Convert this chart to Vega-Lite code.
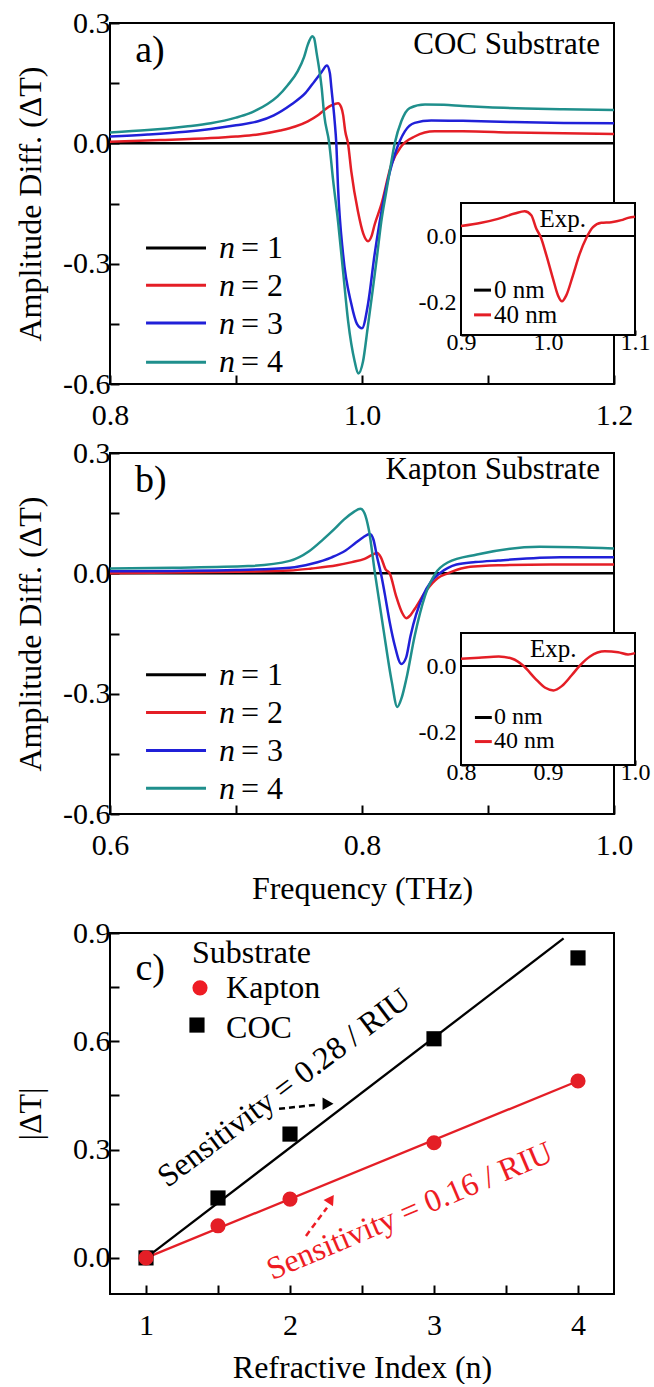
{
  "$schema": "https://vega.github.io/schema/vega-lite/v6.json",
  "padding": {"left": 13, "top": 7, "right": 0, "bottom": 0},
  "background": "white",
  "config": {
    "font": "Liberation Serif",
    "view": {"stroke": "black", "strokeWidth": 2},
    "axis": {
      "domain": false, "grid": false, "ticks": true,
      "tickColor": "black", "tickSize": -9, "tickWidth": 2,
      "labelFont": "Liberation Serif", "labelFontSize": 30, "labelColor": "black",
      "labelOverlap": false, "labelFlush": false,
      "titleFont": "Liberation Serif", "titleFontSize": 32, "titleFontWeight": "normal", "titleColor": "black",
      "zindex": 1
    },
    "text": {"font": "Liberation Serif", "color": "black"}
  },
  "datasets": {
    "ca": [
      {"f":0.8,"v":0,"n":"1"},{"f":1.2,"v":0,"n":"1"},
      {"f":0.80,"v":0.004,"n":"2"},{"f":0.84,"v":0.008,"n":"2"},{"f":0.88,"v":0.013,"n":"2"},{"f":0.90,"v":0.017,"n":"2"},{"f":0.9175,"v":0.022,"n":"2"},{"f":0.935,"v":0.032,"n":"2"},{"f":0.947,"v":0.042,"n":"2"},{"f":0.957,"v":0.055,"n":"2"},{"f":0.965,"v":0.07,"n":"2"},{"f":0.9704,"v":0.084,"n":"2"},{"f":0.976,"v":0.095,"n":"2"},{"f":0.981,"v":0.1,"n":"2"},{"f":0.9835,"v":0.09,"n":"2"},{"f":0.985,"v":0.071,"n":"2"},{"f":0.9867,"v":0.03,"n":"2"},{"f":0.9889,"v":0.0,"n":"2"},{"f":0.9915,"v":-0.07,"n":"2"},{"f":0.9968,"v":-0.17,"n":"2"},{"f":1.001,"v":-0.225,"n":"2"},{"f":1.0048,"v":-0.244,"n":"2"},{"f":1.0075,"v":-0.232,"n":"2"},{"f":1.010,"v":-0.203,"n":"2"},{"f":1.0153,"v":-0.153,"n":"2"},{"f":1.0233,"v":-0.053,"n":"2"},{"f":1.0312,"v":-0.0075,"n":"2"},{"f":1.0418,"v":0.017,"n":"2"},{"f":1.0577,"v":0.03,"n":"2"},{"f":1.08,"v":0.03,"n":"2"},{"f":1.12,"v":0.027,"n":"2"},{"f":1.16,"v":0.025,"n":"2"},{"f":1.2,"v":0.023,"n":"2"},
      {"f":0.80,"v":0.017,"n":"3"},{"f":0.83,"v":0.022,"n":"3"},{"f":0.86,"v":0.029,"n":"3"},{"f":0.88,"v":0.036,"n":"3"},{"f":0.90,"v":0.045,"n":"3"},{"f":0.9175,"v":0.055,"n":"3"},{"f":0.93,"v":0.07,"n":"3"},{"f":0.9439,"v":0.097,"n":"3"},{"f":0.955,"v":0.125,"n":"3"},{"f":0.9624,"v":0.155,"n":"3"},{"f":0.968,"v":0.178,"n":"3"},{"f":0.9722,"v":0.194,"n":"3"},{"f":0.9745,"v":0.175,"n":"3"},{"f":0.9757,"v":0.138,"n":"3"},{"f":0.9783,"v":0.055,"n":"3"},{"f":0.9796,"v":0.0,"n":"3"},{"f":0.981,"v":-0.111,"n":"3"},{"f":0.985,"v":-0.277,"n":"3"},{"f":0.9915,"v":-0.40,"n":"3"},{"f":0.996,"v":-0.45,"n":"3"},{"f":1.0,"v":-0.461,"n":"3"},{"f":1.0048,"v":-0.40,"n":"3"},{"f":1.010,"v":-0.277,"n":"3"},{"f":1.018,"v":-0.128,"n":"3"},{"f":1.026,"v":-0.028,"n":"3"},{"f":1.034,"v":0.030,"n":"3"},{"f":1.0418,"v":0.051,"n":"3"},{"f":1.055,"v":0.057,"n":"3"},{"f":1.08,"v":0.056,"n":"3"},{"f":1.12,"v":0.053,"n":"3"},{"f":1.16,"v":0.051,"n":"3"},{"f":1.2,"v":0.050,"n":"3"},
      {"f":0.80,"v":0.027,"n":"4"},{"f":0.83,"v":0.033,"n":"4"},{"f":0.86,"v":0.042,"n":"4"},{"f":0.88,"v":0.050,"n":"4"},{"f":0.90,"v":0.064,"n":"4"},{"f":0.91,"v":0.074,"n":"4"},{"f":0.917,"v":0.084,"n":"4"},{"f":0.925,"v":0.098,"n":"4"},{"f":0.933,"v":0.117,"n":"4"},{"f":0.941,"v":0.145,"n":"4"},{"f":0.949,"v":0.18,"n":"4"},{"f":0.954,"v":0.215,"n":"4"},{"f":0.957,"v":0.246,"n":"4"},{"f":0.9606,"v":0.267,"n":"4"},{"f":0.962,"v":0.262,"n":"4"},{"f":0.964,"v":0.225,"n":"4"},{"f":0.968,"v":0.138,"n":"4"},{"f":0.970,"v":0.071,"n":"4"},{"f":0.974,"v":0.0,"n":"4"},{"f":0.977,"v":-0.09,"n":"4"},{"f":0.981,"v":-0.195,"n":"4"},{"f":0.985,"v":-0.32,"n":"4"},{"f":0.989,"v":-0.444,"n":"4"},{"f":0.9942,"v":-0.544,"n":"4"},{"f":0.997,"v":-0.574,"n":"4"},{"f":1.0008,"v":-0.544,"n":"4"},{"f":1.0045,"v":-0.46,"n":"4"},{"f":1.0087,"v":-0.361,"n":"4"},{"f":1.012,"v":-0.28,"n":"4"},{"f":1.0153,"v":-0.195,"n":"4"},{"f":1.019,"v":-0.125,"n":"4"},{"f":1.022,"v":-0.07,"n":"4"},{"f":1.026,"v":0.0,"n":"4"},{"f":1.0312,"v":0.055,"n":"4"},{"f":1.0378,"v":0.088,"n":"4"},{"f":1.05,"v":0.097,"n":"4"},{"f":1.065,"v":0.096,"n":"4"},{"f":1.08,"v":0.093,"n":"4"},{"f":1.10,"v":0.090,"n":"4"},{"f":1.13,"v":0.087,"n":"4"},{"f":1.16,"v":0.085,"n":"4"},{"f":1.2,"v":0.083,"n":"4"}
    ],
    "cb": [
      {"f":0.6,"v":0,"n":"1"},{"f":1.0,"v":0,"n":"1"},
      {"f":0.6,"v":0.0,"n":"2"},{"f":0.65,"v":0.002,"n":"2"},{"f":0.70,"v":0.004,"n":"2"},{"f":0.7426,"v":0.007,"n":"2"},{"f":0.76,"v":0.012,"n":"2"},{"f":0.78,"v":0.02,"n":"2"},{"f":0.792,"v":0.028,"n":"2"},{"f":0.802,"v":0.036,"n":"2"},{"f":0.808,"v":0.046,"n":"2"},{"f":0.812,"v":0.051,"n":"2"},{"f":0.815,"v":0.04,"n":"2"},{"f":0.8187,"v":0.01,"n":"2"},{"f":0.822,"v":0.0,"n":"2"},{"f":0.827,"v":-0.056,"n":"2"},{"f":0.8318,"v":-0.098,"n":"2"},{"f":0.8352,"v":-0.112,"n":"2"},{"f":0.8385,"v":-0.104,"n":"2"},{"f":0.8418,"v":-0.089,"n":"2"},{"f":0.8517,"v":-0.04,"n":"2"},{"f":0.86,"v":-0.012,"n":"2"},{"f":0.868,"v":0.0,"n":"2"},{"f":0.8815,"v":0.014,"n":"2"},{"f":0.895,"v":0.018,"n":"2"},{"f":0.908,"v":0.02,"n":"2"},{"f":0.95,"v":0.022,"n":"2"},{"f":1.0,"v":0.022,"n":"2"},
      {"f":0.6,"v":0.005,"n":"3"},{"f":0.65,"v":0.006,"n":"3"},{"f":0.70,"v":0.008,"n":"3"},{"f":0.7426,"v":0.014,"n":"3"},{"f":0.76,"v":0.024,"n":"3"},{"f":0.776,"v":0.04,"n":"3"},{"f":0.787,"v":0.057,"n":"3"},{"f":0.795,"v":0.076,"n":"3"},{"f":0.801,"v":0.09,"n":"3"},{"f":0.8063,"v":0.098,"n":"3"},{"f":0.809,"v":0.085,"n":"3"},{"f":0.812,"v":0.04,"n":"3"},{"f":0.815,"v":0.0,"n":"3"},{"f":0.818,"v":-0.05,"n":"3"},{"f":0.822,"v":-0.122,"n":"3"},{"f":0.826,"v":-0.18,"n":"3"},{"f":0.8312,"v":-0.226,"n":"3"},{"f":0.835,"v":-0.21,"n":"3"},{"f":0.8385,"v":-0.156,"n":"3"},{"f":0.8484,"v":-0.056,"n":"3"},{"f":0.855,"v":-0.02,"n":"3"},{"f":0.8617,"v":0.0,"n":"3"},{"f":0.875,"v":0.022,"n":"3"},{"f":0.89,"v":0.028,"n":"3"},{"f":0.908,"v":0.032,"n":"3"},{"f":0.9575,"v":0.04,"n":"3"},{"f":1.0,"v":0.04,"n":"3"},
      {"f":0.6,"v":0.012,"n":"4"},{"f":0.65,"v":0.014,"n":"4"},{"f":0.7095,"v":0.018,"n":"4"},{"f":0.7426,"v":0.031,"n":"4"},{"f":0.758,"v":0.055,"n":"4"},{"f":0.769,"v":0.084,"n":"4"},{"f":0.778,"v":0.11,"n":"4"},{"f":0.7856,"v":0.134,"n":"4"},{"f":0.793,"v":0.152,"n":"4"},{"f":0.7988,"v":0.161,"n":"4"},{"f":0.802,"v":0.15,"n":"4"},{"f":0.8054,"v":0.109,"n":"4"},{"f":0.8103,"v":0.0,"n":"4"},{"f":0.817,"v":-0.139,"n":"4"},{"f":0.8236,"v":-0.27,"n":"4"},{"f":0.828,"v":-0.333,"n":"4"},{"f":0.8315,"v":-0.31,"n":"4"},{"f":0.8352,"v":-0.263,"n":"4"},{"f":0.8418,"v":-0.156,"n":"4"},{"f":0.850,"v":-0.056,"n":"4"},{"f":0.8583,"v":0.0,"n":"4"},{"f":0.868,"v":0.027,"n":"4"},{"f":0.8913,"v":0.047,"n":"4"},{"f":0.941,"v":0.066,"n":"4"},{"f":0.97,"v":0.065,"n":"4"},{"f":1.0,"v":0.062,"n":"4"}
    ],
    "ia": [
      {"f":0.9,"v":0.03},{"f":0.9233,"v":0.040},{"f":0.9425,"v":0.052},{"f":0.9617,"v":0.068},{"f":0.9732,"v":0.075},{"f":0.9808,"v":0.063},{"f":0.9866,"v":0.022},{"f":0.9916,"v":-0.003},{"f":0.9981,"v":-0.058},{"f":1.0057,"v":-0.129},{"f":1.0115,"v":-0.18},{"f":1.0161,"v":-0.198},{"f":1.021,"v":-0.18},{"f":1.0287,"v":-0.119},{"f":1.0364,"v":-0.054},{"f":1.044,"v":-0.006},{"f":1.0517,"v":0.027},{"f":1.0613,"v":0.040},{"f":1.0728,"v":0.042},{"f":1.0843,"v":0.048},{"f":1.092,"v":0.055},{"f":1.1,"v":0.058}
    ],
    "ib": [
      {"f":0.8,"v":0.022},{"f":0.8206,"v":0.025},{"f":0.8434,"v":0.029},{"f":0.859,"v":0.022},{"f":0.872,"v":0.0},{"f":0.8853,"v":-0.038},{"f":0.8968,"v":-0.066},{"f":0.9063,"v":-0.074},{"f":0.9158,"v":-0.061},{"f":0.9272,"v":-0.028},{"f":0.9368,"v":0.002},{"f":0.9482,"v":0.029},{"f":0.9653,"v":0.045},{"f":0.9806,"v":0.042},{"f":0.992,"v":0.035},{"f":1.0,"v":0.039}
    ],
    "pc": [
      {"ri":1,"dt":0,"sub":"COC"},{"ri":1.5,"dt":0.166,"sub":"COC"},{"ri":2,"dt":0.343,"sub":"COC"},{"ri":3,"dt":0.607,"sub":"COC"},{"ri":4,"dt":0.831,"sub":"COC"},
      {"ri":1,"dt":0,"sub":"Kapton"},{"ri":1.5,"dt":0.089,"sub":"Kapton"},{"ri":2,"dt":0.163,"sub":"Kapton"},{"ri":3,"dt":0.319,"sub":"Kapton"},{"ri":4,"dt":0.49,"sub":"Kapton"}
    ],
    "fit": [
      {"ri":1,"dt":0,"sub":"COC"},{"ri":3.9,"dt":0.885,"sub":"COC"},
      {"ri":1,"dt":0,"sub":"Kapton"},{"ri":4,"dt":0.49,"sub":"Kapton"}
    ]
  },
  "vconcat": [
    {
      "spacing": 6,
      "vconcat": [
        {
          "width": 504, "height": 361,
          "data": {"values": [{}]},
          "resolve": {"scale": {"x": "independent", "y": "independent"}},
          "layer": [
            {
              "layer": [
                {
                  "data": {"name": "ca"},
                  "mark": {"type": "line", "strokeWidth": 2.5, "interpolate": "monotone"},
                  "encoding": {
                    "x": {"field": "f", "type": "quantitative", "scale": {"domain": [0.8, 1.2], "nice": false, "zero": false},
                      "axis": {"title": null, "values": [0.8, 0.9, 1.0, 1.1, 1.2], "labelPadding": 25, "labelExpr": "round(datum.value*10)%2==0 ? format(datum.value,'.1f') : ''"}},
                    "y": {"field": "v", "type": "quantitative", "scale": {"domain": [-0.6, 0.3], "nice": false, "zero": false},
                      "axis": {"title": "Amplitude Diff. (ΔT)", "values": [-0.6, -0.45, -0.3, -0.15, 0, 0.15, 0.3], "labelPadding": 9, "titlePadding": 15, "labelExpr": "round(datum.value*100)%30==0 ? (datum.value<0 ? '-' : '') + format(abs(datum.value),'.1f') : ''"}},
                    "color": {"field": "n", "type": "nominal", "scale": {"domain": ["1", "2", "3", "4"], "range": ["#000000", "#e41e26", "#2020d8", "#1f8f8c"]}, "legend": null}
                  }
                },
                {"mark": {"type": "rule", "color": "#000000", "strokeWidth": 3}, "encoding": {"x": {"datum": 0.8286}, "x2": {"datum": 0.8762}, "y": {"datum": -0.261}}},
                {"mark": {"type": "rule", "color": "#e41e26", "strokeWidth": 3}, "encoding": {"x": {"datum": 0.8286}, "x2": {"datum": 0.8762}, "y": {"datum": -0.354}}},
                {"mark": {"type": "rule", "color": "#2020d8", "strokeWidth": 3}, "encoding": {"x": {"datum": 0.8286}, "x2": {"datum": 0.8762}, "y": {"datum": -0.448}}},
                {"mark": {"type": "rule", "color": "#1f8f8c", "strokeWidth": 3}, "encoding": {"x": {"datum": 0.8286}, "x2": {"datum": 0.8762}, "y": {"datum": -0.546}}},
                {"mark": {"type": "text", "text": ["n", "n", "n", "n"], "fontStyle": "italic", "fontSize": 32, "lineHeight": 38, "align": "left", "baseline": "middle"}, "encoding": {"x": {"datum": 0.8865}, "y": {"datum": -0.261}}},
                {"mark": {"type": "text", "text": ["= 1", "= 2", "= 3", "= 4"], "fontSize": 32, "lineHeight": 38, "align": "left", "baseline": "middle"}, "encoding": {"x": {"datum": 0.904}, "y": {"datum": -0.261}}},
                {"mark": {"type": "text", "text": "a)", "fontSize": 38, "align": "left", "baseline": "middle"}, "encoding": {"x": {"datum": 0.82}, "y": {"datum": 0.229}}},
                {"mark": {"type": "text", "text": "COC Substrate", "fontSize": 31, "align": "right", "baseline": "middle"}, "encoding": {"x": {"datum": 1.189}, "y": {"datum": 0.244}}}
              ]
            },
            {
              "layer": [
                {
                  "mark": {"type": "rect", "fill": "white", "stroke": "black", "strokeWidth": 2},
                  "encoding": {
                    "x": {"datum": 0.9, "type": "quantitative", "scale": {"domain": [0.9, 1.1], "range": [351, 525], "nice": false, "zero": false},
                      "axis": {"orient": "bottom", "offset": -49, "title": null, "values": [0.9, 0.95, 1.0, 1.05, 1.1], "labelFontSize": 24, "labelPadding": 0, "tickSize": -5, "labelExpr": "round(datum.value*100)%10==0 ? format(datum.value,'.1f') : ''"}},
                    "x2": {"datum": 1.1},
                    "y": {"datum": -0.3, "type": "quantitative", "scale": {"domain": [-0.3, 0.1], "range": [312, 180], "nice": false, "zero": false},
                      "axis": {"orient": "left", "offset": -351, "title": null, "values": [-0.3, -0.2, -0.1, 0, 0.1], "labelFontSize": 24, "labelPadding": 10, "tickSize": -5, "labelExpr": "round(datum.value*10)%2==0 ? (datum.value<0 ? '-' : '') + format(abs(datum.value),'.1f') : ''"}},
                    "y2": {"datum": 0.1}
                  }
                },
                {"mark": {"type": "rule", "color": "black", "strokeWidth": 2}, "encoding": {"x": {"datum": 0.9}, "x2": {"datum": 1.1}, "y": {"datum": 0}}},
                {"data": {"name": "ia"}, "mark": {"type": "line", "color": "#e41e26", "strokeWidth": 2.5, "interpolate": "monotone"}, "encoding": {"x": {"field": "f", "type": "quantitative"}, "y": {"field": "v", "type": "quantitative"}}},
                {"mark": {"type": "rule", "color": "black", "strokeWidth": 3}, "encoding": {"x": {"datum": 0.915}, "x2": {"datum": 0.9345}, "y": {"datum": -0.164}}},
                {"mark": {"type": "rule", "color": "#e41e26", "strokeWidth": 3}, "encoding": {"x": {"datum": 0.915}, "x2": {"datum": 0.9345}, "y": {"datum": -0.239}}},
                {"mark": {"type": "text", "text": ["0 nm", "40 nm"], "fontSize": 25, "lineHeight": 25, "align": "left", "baseline": "middle"}, "encoding": {"x": {"datum": 0.938}, "y": {"datum": -0.164}}},
                {"mark": {"type": "text", "text": "Exp.", "fontSize": 25, "align": "center", "baseline": "middle"}, "encoding": {"x": {"datum": 1.017}, "y": {"datum": 0.052}}}
              ]
            }
          ]
        },
        {
          "width": 504, "height": 361,
          "data": {"values": [{}]},
          "resolve": {"scale": {"x": "independent", "y": "independent"}},
          "layer": [
            {
              "layer": [
                {
                  "data": {"name": "cb"},
                  "mark": {"type": "line", "strokeWidth": 2.5, "interpolate": "monotone"},
                  "encoding": {
                    "x": {"field": "f", "type": "quantitative", "scale": {"domain": [0.6, 1.0], "nice": false, "zero": false},
                      "axis": {"title": "Frequency (THz)", "titlePadding": 13, "values": [0.6, 0.7, 0.8, 0.9, 1.0], "labelPadding": 25, "labelExpr": "round(datum.value*10)%2==0 ? format(datum.value,'.1f') : ''"}},
                    "y": {"field": "v", "type": "quantitative", "scale": {"domain": [-0.6, 0.3], "nice": false, "zero": false},
                      "axis": {"title": "Amplitude Diff. (ΔT)", "values": [-0.6, -0.45, -0.3, -0.15, 0, 0.15, 0.3], "labelPadding": 9, "titlePadding": 15, "labelExpr": "round(datum.value*100)%30==0 ? (datum.value<0 ? '-' : '') + format(abs(datum.value),'.1f') : ''"}},
                    "color": {"field": "n", "type": "nominal", "scale": {"domain": ["1", "2", "3", "4"], "range": ["#000000", "#e41e26", "#2020d8", "#1f8f8c"]}, "legend": null}
                  }
                },
                {"mark": {"type": "rule", "color": "#000000", "strokeWidth": 3}, "encoding": {"x": {"datum": 0.6286}, "x2": {"datum": 0.6762}, "y": {"datum": -0.253}}},
                {"mark": {"type": "rule", "color": "#e41e26", "strokeWidth": 3}, "encoding": {"x": {"datum": 0.6286}, "x2": {"datum": 0.6762}, "y": {"datum": -0.347}}},
                {"mark": {"type": "rule", "color": "#2020d8", "strokeWidth": 3}, "encoding": {"x": {"datum": 0.6286}, "x2": {"datum": 0.6762}, "y": {"datum": -0.442}}},
                {"mark": {"type": "rule", "color": "#1f8f8c", "strokeWidth": 3}, "encoding": {"x": {"datum": 0.6286}, "x2": {"datum": 0.6762}, "y": {"datum": -0.536}}},
                {"mark": {"type": "text", "text": ["n", "n", "n", "n"], "fontStyle": "italic", "fontSize": 32, "lineHeight": 38, "align": "left", "baseline": "middle"}, "encoding": {"x": {"datum": 0.6865}, "y": {"datum": -0.253}}},
                {"mark": {"type": "text", "text": ["= 1", "= 2", "= 3", "= 4"], "fontSize": 32, "lineHeight": 38, "align": "left", "baseline": "middle"}, "encoding": {"x": {"datum": 0.704}, "y": {"datum": -0.253}}},
                {"mark": {"type": "text", "text": "b)", "fontSize": 38, "align": "left", "baseline": "middle"}, "encoding": {"x": {"datum": 0.6198}, "y": {"datum": 0.231}}},
                {"mark": {"type": "text", "text": "Kapton Substrate", "fontSize": 31, "align": "right", "baseline": "middle"}, "encoding": {"x": {"datum": 0.9889}, "y": {"datum": 0.258}}}
              ]
            },
            {
              "layer": [
                {
                  "mark": {"type": "rect", "fill": "white", "stroke": "black", "strokeWidth": 2},
                  "encoding": {
                    "x": {"datum": 0.8, "type": "quantitative", "scale": {"domain": [0.8, 1.0], "range": [351, 525], "nice": false, "zero": false},
                      "axis": {"orient": "bottom", "offset": -49, "title": null, "values": [0.8, 0.85, 0.9, 0.95, 1.0], "labelFontSize": 24, "labelPadding": 0, "tickSize": -5, "labelExpr": "round(datum.value*100)%10==0 ? format(datum.value,'.1f') : ''"}},
                    "x2": {"datum": 1.0},
                    "y": {"datum": -0.3, "type": "quantitative", "scale": {"domain": [-0.3, 0.1], "range": [312, 180], "nice": false, "zero": false},
                      "axis": {"orient": "left", "offset": -351, "title": null, "values": [-0.3, -0.2, -0.1, 0, 0.1], "labelFontSize": 24, "labelPadding": 10, "tickSize": -5, "labelExpr": "round(datum.value*10)%2==0 ? (datum.value<0 ? '-' : '') + format(abs(datum.value),'.1f') : ''"}},
                    "y2": {"datum": 0.1}
                  }
                },
                {"mark": {"type": "rule", "color": "black", "strokeWidth": 2}, "encoding": {"x": {"datum": 0.8}, "x2": {"datum": 1.0}, "y": {"datum": 0}}},
                {"data": {"name": "ib"}, "mark": {"type": "line", "color": "#e41e26", "strokeWidth": 2.5, "interpolate": "monotone"}, "encoding": {"x": {"field": "f", "type": "quantitative"}, "y": {"field": "v", "type": "quantitative"}}},
                {"mark": {"type": "rule", "color": "black", "strokeWidth": 3}, "encoding": {"x": {"datum": 0.816}, "x2": {"datum": 0.8354}, "y": {"datum": -0.156}}},
                {"mark": {"type": "rule", "color": "#e41e26", "strokeWidth": 3}, "encoding": {"x": {"datum": 0.816}, "x2": {"datum": 0.8354}, "y": {"datum": -0.229}}},
                {"mark": {"type": "text", "text": ["0 nm", "40 nm"], "fontSize": 24, "lineHeight": 24, "align": "left", "baseline": "middle"}, "encoding": {"x": {"datum": 0.838}, "y": {"datum": -0.156}}},
                {"mark": {"type": "text", "text": "Exp.", "fontSize": 25, "align": "center", "baseline": "middle"}, "encoding": {"x": {"datum": 0.906}, "y": {"datum": 0.052}}}
              ]
            }
          ]
        }
      ]
    },
    {
      "width": 504, "height": 361,
      "data": {"values": [{}]},
      "layer": [
        {
          "data": {"name": "fit"},
          "mark": {"type": "line", "strokeWidth": 2.3},
          "encoding": {
            "x": {"field": "ri", "type": "quantitative", "scale": {"domain": [0.75, 4.25], "nice": false, "zero": false},
              "axis": {"title": "Refractive Index (n)", "titlePadding": 12, "values": [1, 1.5, 2, 2.5, 3, 3.5, 4], "labelPadding": 25, "labelExpr": "datum.value%1==0 ? format(datum.value,'d') : ''"}},
            "y": {"field": "dt", "type": "quantitative", "scale": {"domain": [-0.1, 0.9], "nice": false, "zero": false},
              "axis": {"title": "|ΔT|", "titlePadding": 25, "values": [0, 0.15, 0.3, 0.45, 0.6, 0.75, 0.9], "labelPadding": 9, "labelExpr": "round(datum.value*100)%30==0 ? format(datum.value,'.1f') : ''"}},
            "color": {"field": "sub", "type": "nominal", "scale": {"domain": ["COC", "Kapton"], "range": ["#000000", "#ee1c24"]}, "legend": null}
          }
        },
        {
          "data": {"name": "pc"},
          "mark": {"type": "point", "filled": true, "opacity": 1, "size": 230},
          "encoding": {
            "x": {"field": "ri", "type": "quantitative"},
            "y": {"field": "dt", "type": "quantitative"},
            "color": {"field": "sub", "type": "nominal", "scale": {"domain": ["COC", "Kapton"], "range": ["#000000", "#ee1c24"]}, "legend": null},
            "shape": {"field": "sub", "type": "nominal", "scale": {"domain": ["COC", "Kapton"], "range": ["square", "circle"]}, "legend": null}
          }
        },
        {"mark": {"type": "rule", "color": "black", "strokeWidth": 2.5, "strokeDash": [6, 4]}, "encoding": {"x": {"datum": 1.924}, "x2": {"datum": 2.2}, "y": {"datum": 0.413}, "y2": {"datum": 0.425}}},
        {"mark": {"type": "point", "shape": "triangle-right", "filled": true, "color": "black", "opacity": 1, "size": 160}, "encoding": {"x": {"datum": 2.264}, "y": {"datum": 0.427}}},
        {"mark": {"type": "rule", "color": "#ee1c24", "strokeWidth": 2.5, "strokeDash": [6, 4]}, "encoding": {"x": {"datum": 2.111}, "x2": {"datum": 2.257}, "y": {"datum": 0.061}, "y2": {"datum": 0.139}}},
        {"mark": {"type": "point", "shape": "triangle-up", "angle": 34, "filled": true, "color": "#ee1c24", "opacity": 1, "size": 130}, "encoding": {"x": {"datum": 2.285}, "y": {"datum": 0.163}}},
        {"mark": {"type": "text", "text": "Sensitivity = 0.28 / RIU", "fontSize": 32, "angle": -37, "align": "center", "baseline": "middle"}, "encoding": {"x": {"datum": 1.958}, "y": {"datum": 0.471}}},
        {"mark": {"type": "text", "text": "Sensitivity = 0.16 / RIU", "fontSize": 32, "angle": -23, "align": "center", "baseline": "middle", "color": "#ee1c24"}, "encoding": {"x": {"datum": 2.83}, "y": {"datum": 0.13}}},
        {"mark": {"type": "text", "text": "c)", "fontSize": 38, "align": "left", "baseline": "middle"}, "encoding": {"x": {"datum": 0.927}, "y": {"datum": 0.80}}},
        {"mark": {"type": "text", "text": "Substrate", "fontSize": 32, "align": "left", "baseline": "middle"}, "encoding": {"x": {"datum": 1.319}, "y": {"datum": 0.845}}},
        {"mark": {"type": "point", "shape": "circle", "filled": true, "color": "#ee1c24", "opacity": 1, "size": 230}, "encoding": {"x": {"datum": 1.375}, "y": {"datum": 0.748}}},
        {"mark": {"type": "text", "text": "Kapton", "fontSize": 32, "align": "left", "baseline": "middle"}, "encoding": {"x": {"datum": 1.556}, "y": {"datum": 0.748}}},
        {"mark": {"type": "point", "shape": "square", "filled": true, "color": "black", "opacity": 1, "size": 230}, "encoding": {"x": {"datum": 1.354}, "y": {"datum": 0.645}}},
        {"mark": {"type": "text", "text": "COC", "fontSize": 32, "align": "left", "baseline": "middle"}, "encoding": {"x": {"datum": 1.556}, "y": {"datum": 0.637}}}
      ]
    }
  ],
  "spacing": 12
}
